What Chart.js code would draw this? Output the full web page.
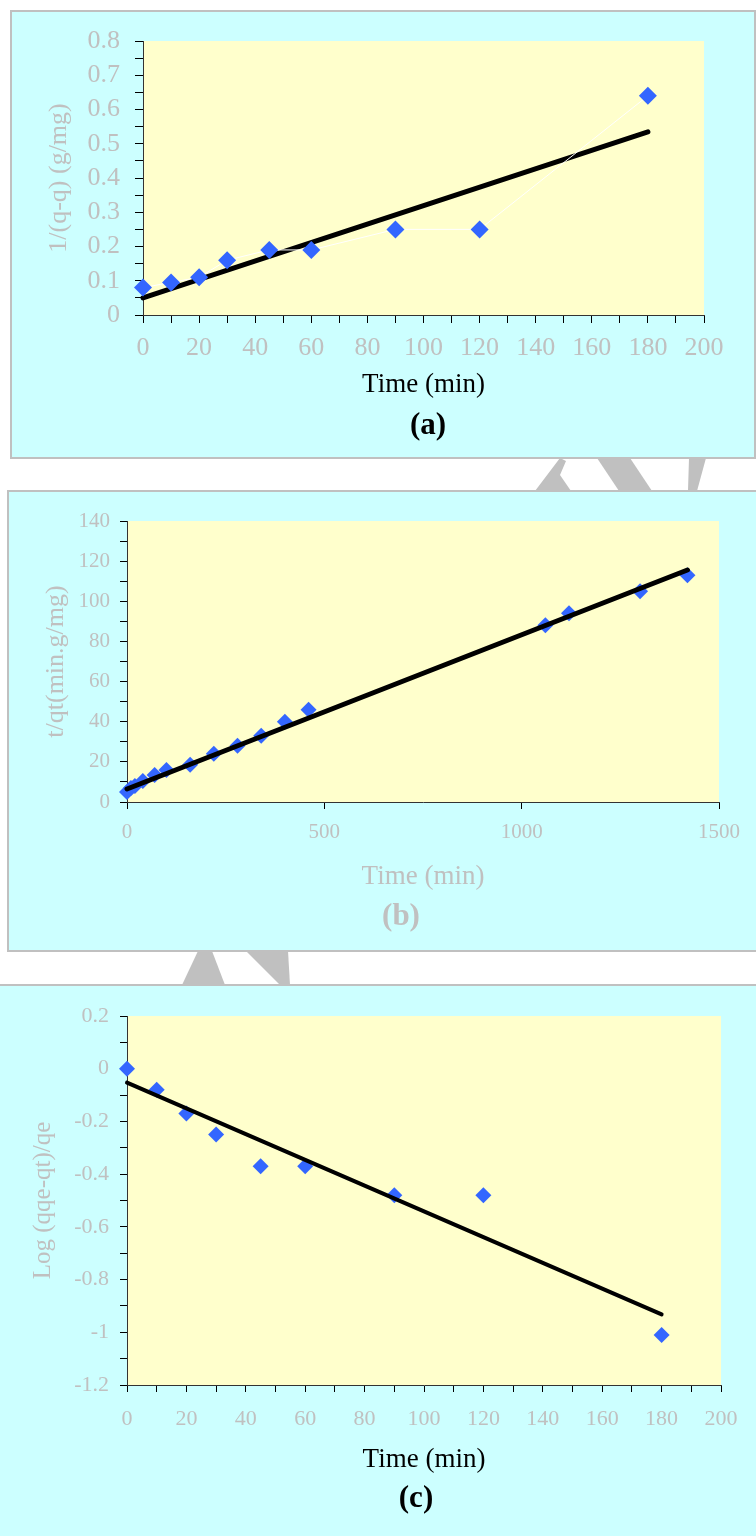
<!DOCTYPE html>
<html lang="en">
<head>
<meta charset="UTF-8">
<title>Kinetic model plots</title>
<style>
    body {
        margin: 0;
        width: 756px;
        height: 1536px;
        overflow: hidden;
        background: #fff;
        position: relative;
        font-family: 'Liberation Serif', 'Times New Roman', serif;
    }
    .box {
        position: absolute;
        background: #ccffff;
        border: 2px solid #c0c0c0;
        box-sizing: border-box;
    }
    #boxA { left: 10px; top: 10px; width: 746px; height: 449px; }
    #boxB { left: 7px; top: 490px; width: 800px; height: 462px; }
    #boxC { left: -5px; top: 984px; width: 800px; height: 620px; }
    canvas { position: absolute; left: 0; }
    .caption {
        position: absolute;
        font-weight: bold;
        font-size: 31px;
        line-height: 1;
        transform: translate(-50%, -50%);
    }
    #watermark { position: absolute; left: 0; top: 0; }
</style>
<script src="https://cdn.jsdelivr.net/npm/chart.js"></script>
</head>
<body>
<svg id="watermark" width="756" height="1536">
    <g fill="#c0c0c0">
        <polygon points="535,491 560,458 566,461 560,475 571,491"/>
        <polygon points="597,458 630,458 652,491 619,491"/>
        <polygon points="689,458 706,458 697,491 688,491"/>
        <polygon points="198,951 212,951 225,985 182,985"/>
        <polygon points="246,951 288,951 290,985 280,985"/>
    </g>
</svg>

<div class="box" id="boxA"></div>
<div class="box" id="boxB"></div>
<div class="box" id="boxC"></div>

<canvas id="chartA" width="756" height="470" style="top:0px"></canvas>
<canvas id="chartB" width="756" height="480" style="top:480px"></canvas>
<canvas id="chartC" width="756" height="566" style="top:970px"></canvas>

<div class="caption" style="left:428px; top:423px; color:#000">(a)</div>
<div class="caption" style="left:401px; top:914px; color:#c0c0c0">(b)</div>
<div class="caption" style="left:416px; top:1496px; color:#000">(c)</div>

<script>
    // (a) second order plot
    const timeA = [0, 10, 20, 30, 45, 60, 90, 120, 180];
    const valueA = [0.08, 0.095, 0.11, 0.16, 0.19, 0.19, 0.25, 0.25, 0.64];
    const fitTimeA = [0, 180];
    const fitValueA = [0.05, 0.535];

    // (b) pseudo second order t/qt
    const timeB = [0, 10, 20, 40, 70, 100, 160, 220, 280, 340, 400, 460, 1060, 1120, 1300, 1420];
    const valueB = [5, 7, 8, 10.5, 13.5, 16, 18.5, 24, 28, 33, 40, 46, 88, 94, 105, 113];
    const fitTimeB = [0, 1420];
    const fitValueB = [6.5, 115.6];

    // (c) first order log plot
    const timeC = [0, 10, 20, 30, 45, 60, 90, 120, 180];
    const valueC = [0, -0.08, -0.17, -0.25, -0.37, -0.37, -0.48, -0.48, -1.01];
    const fitTimeC = [0, 180];
    const fitValueC = [-0.053, -0.932];

    const SERIF = "'Liberation Serif', 'Times New Roman', serif";
    const LABEL_GREY = '#c0c0c0';

    const toPoints = (xs, ys) => xs.map((x, i) => ({ x: x, y: ys[i] }));

    const plotBackground = {
        id: 'plotBackground',
        beforeDraw(chart) {
            const { ctx, chartArea: a } = chart;
            ctx.save();
            ctx.fillStyle = '#ffffcc';
            ctx.fillRect(a.left, a.top, a.right - a.left, a.bottom - a.top);
            ctx.restore();
        }
    };

    // major ticks get a label, minor ones only a tick mark
    function labelEvery(major, decimals) {
        return function (v) {
            const r = v / major;
            if (Math.abs(r - Math.round(r)) > 1e-6) return '';
            return String(+v.toFixed(decimals));
        };
    }

    function axis(o) {
        const a = {
            type: 'linear',
            min: o.min,
            max: o.max,
            border: { display: true, color: '#333', width: 1 },
            grid: { drawOnChartArea: false, drawTicks: true, tickLength: o.tickLength || 7, color: '#000' },
            ticks: {
                stepSize: o.step,
                autoSkip: false,
                maxRotation: 0,
                padding: o.padding,
                color: LABEL_GREY,
                font: { family: SERIF, size: o.fontSize },
                callback: o.callback
            },
            title: {
                display: true,
                text: o.title,
                color: o.titleColor,
                font: { family: SERIF, size: o.titleSize },
                padding: o.titlePadding
            }
        };
        if (o.width) a.afterFit = s => { s.width = o.width; };
        if (o.height) a.afterFit = s => { s.height = o.height; };
        return a;
    }

    function panel(id, datasets, pad, xAxis, yAxis) {
        return new Chart(document.getElementById(id), {
            type: 'scatter',
            data: { datasets: datasets },
            options: {
                responsive: false,
                animation: false,
                devicePixelRatio: 1,
                layout: { padding: pad },
                plugins: { legend: { display: false }, tooltip: { enabled: false } },
                scales: { x: xAxis, y: yAxis }
            },
            plugins: [plotBackground]
        });
    }

    function pointSet(xs, ys, radius, line) {
        return {
            data: toPoints(xs, ys),
            pointStyle: 'rectRot',
            pointRadius: radius,
            pointBackgroundColor: '#3366ff',
            pointBorderColor: '#3366ff',
            pointBorderWidth: 0,
            showLine: line,
            borderColor: '#ffffff',
            borderWidth: 1,
            clip: false
        };
    }

    function fitSet(xs, ys, width) {
        return {
            data: toPoints(xs, ys),
            showLine: true,
            borderColor: '#000',
            borderWidth: width,
            borderCapStyle: 'round',
            pointRadius: 0,
            clip: false
        };
    }

    // (a) points drawn over the fit line
    panel('chartA',
        [pointSet(timeA, valueA, 9, true), fitSet(fitTimeA, fitValueA, 5)],
        { left: 0, top: 41, right: 52, bottom: 0 },
        axis({ min: 0, max: 200, step: 10, padding: 10, fontSize: 26, tickLength: 8,
               callback: labelEvery(20, 0), height: 155,
               title: 'Time (min)', titleColor: '#000', titleSize: 27,
               titlePadding: { top: 0, bottom: 69 } }),
        axis({ min: 0, max: 0.8, step: 0.05, padding: 15, fontSize: 26, tickLength: 8,
               callback: labelEvery(0.1, 1), width: 143,
               title: '1/(q-q) (g/mg)', titleColor: LABEL_GREY, titleSize: 26,
               titlePadding: { top: 44, bottom: 0 } })
    );

    // (b) fit line drawn over the points
    panel('chartB',
        [fitSet(fitTimeB, fitValueB, 5), pointSet(timeB, valueB, 8, false)],
        { left: 0, top: 41, right: 37, bottom: 0 },
        axis({ min: 0, max: 1500, step: 500, padding: 11, fontSize: 21,
               callback: labelEvery(500, 0), height: 158,
               title: 'Time (min)', titleColor: LABEL_GREY, titleSize: 27,
               titlePadding: { top: 0, bottom: 67 } }),
        axis({ min: 0, max: 140, step: 10, padding: 10, fontSize: 21,
               callback: labelEvery(20, 0), width: 127,
               title: 't/qt(min.g/mg)', titleColor: LABEL_GREY, titleSize: 26,
               titlePadding: { top: 41, bottom: 0 } })
    );

    // (c)
    panel('chartC',
        [fitSet(fitTimeC, fitValueC, 4), pointSet(timeC, valueC, 8, false)],
        { left: 0, top: 46, right: 35, bottom: 0 },
        axis({ min: 0, max: 200, step: 10, padding: 14, fontSize: 22,
               callback: labelEvery(20, 0), height: 151,
               title: 'Time (min)', titleColor: '#000', titleSize: 27,
               titlePadding: { top: 0, bottom: 60 } }),
        axis({ min: -1.2, max: 0.2, step: 0.1, padding: 11, fontSize: 22,
               callback: labelEvery(0.2, 1), width: 127,
               title: 'Log (qqe-qt)/qe', titleColor: LABEL_GREY, titleSize: 25,
               titlePadding: { top: 28, bottom: 0 } })
    );
</script>
</body>
</html>
